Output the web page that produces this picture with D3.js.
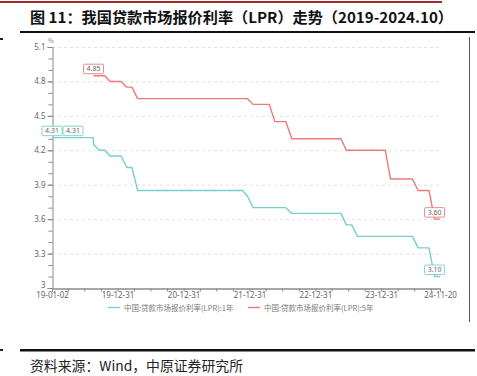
<!DOCTYPE html>
<html>
<head>
<meta charset="utf-8">
<script src="https://cdn.jsdelivr.net/npm/d3@7"></script>
<style>
  html, body { margin: 0; padding: 0; background: #fff; }
  svg { display: block; }
</style>
</head>
<body>
<div id="chart"></div>
<script>
// ---- data ----
var titleText = '图 11：我国贷款市场报价利率（LPR）走势（2019-2024.10）';
var sourceText = '资料来源：Wind，中原证券研究所';
var seriesNames = ['中国:贷款市场报价利率(LPR):1年', '中国:贷款市场报价利率(LPR):5年'];

// old 1Y LPR (before the Aug 2019 reform)
var oldDates = ['2019-01-02', '2019-08-19'];
var oldValues1y = [4.31, 4.31];

// monthly quotes from 2019-08 to 2024-11
var months = [
  '2019-08-20', '2019-09-20', '2019-10-21', '2019-11-20', '2019-12-20',
  '2020-01-20', '2020-02-20', '2020-03-20', '2020-04-20', '2020-05-20', '2020-06-22',
  '2020-07-20', '2020-08-20', '2020-09-21', '2020-10-20', '2020-11-20', '2020-12-21',
  '2021-01-20', '2021-02-20', '2021-03-22', '2021-04-20', '2021-05-20', '2021-06-21',
  '2021-07-20', '2021-08-20', '2021-09-22', '2021-10-20', '2021-11-22', '2021-12-20',
  '2022-01-20', '2022-02-21', '2022-03-21', '2022-04-20', '2022-05-20', '2022-06-20',
  '2022-07-20', '2022-08-22', '2022-09-20', '2022-10-20', '2022-11-21', '2022-12-20',
  '2023-01-20', '2023-02-20', '2023-03-20', '2023-04-20', '2023-05-22', '2023-06-20',
  '2023-07-20', '2023-08-21', '2023-09-20', '2023-10-20', '2023-11-20', '2023-12-20',
  '2024-01-22', '2024-02-20', '2024-03-20', '2024-04-22', '2024-05-20', '2024-06-20',
  '2024-07-22', '2024-08-20', '2024-09-20', '2024-10-21', '2024-11-20'
];
var lpr1y = [
  4.25, 4.20, 4.20, 4.15, 4.15,
  4.15, 4.05, 4.05, 3.85, 3.85, 3.85, 3.85, 3.85, 3.85, 3.85, 3.85, 3.85,
  3.85, 3.85, 3.85, 3.85, 3.85, 3.85, 3.85, 3.85, 3.85, 3.85, 3.85, 3.80,
  3.70, 3.70, 3.70, 3.70, 3.70, 3.70, 3.70, 3.65, 3.65, 3.65, 3.65, 3.65,
  3.65, 3.65, 3.65, 3.65, 3.65, 3.55, 3.55, 3.45, 3.45, 3.45, 3.45, 3.45,
  3.45, 3.45, 3.45, 3.45, 3.45, 3.45, 3.35, 3.35, 3.35, 3.10, 3.10
];
var lpr5y = [
  4.85, 4.85, 4.85, 4.80, 4.80,
  4.80, 4.75, 4.75, 4.65, 4.65, 4.65, 4.65, 4.65, 4.65, 4.65, 4.65, 4.65,
  4.65, 4.65, 4.65, 4.65, 4.65, 4.65, 4.65, 4.65, 4.65, 4.65, 4.65, 4.65,
  4.60, 4.60, 4.60, 4.60, 4.45, 4.45, 4.45, 4.30, 4.30, 4.30, 4.30, 4.30,
  4.30, 4.30, 4.30, 4.30, 4.30, 4.20, 4.20, 4.20, 4.20, 4.20, 4.20, 4.20,
  4.20, 3.95, 3.95, 3.95, 3.95, 3.95, 3.85, 3.85, 3.85, 3.60, 3.60
];

// value boxes: series index, date, value, shift (in box widths)
var labelSeries = [1, 0, 0, 1, 0];
var labelDates = ['2019-08-20', '2019-01-02', '2019-01-02', '2024-10-21', '2024-10-21'];
var labelValues = [4.85, 4.31, 4.31, 3.60, 3.10];
var labelShift = [0, 0, 1.05, 0, 0];

var yTicks = [3, 3.3, 3.6, 3.9, 4.2, 4.5, 4.8, 5.1];
var xTickDates = ['2019-01-02', '2019-12-31', '2020-12-31', '2021-12-31', '2022-12-31', '2023-12-31', '2024-11-20'];

// ---- drawing ----
var W = 477, H = 376;
var colors = ['#79cfca', '#ec7a7a'];
var parse = d3.timeParse('%Y-%m-%d');
var fmt = d3.timeFormat('%y-%m-%d');

var svg = d3.select('#chart').append('svg')
  .attr('width', W).attr('height', H)
  .style('font-family', '"Noto Sans CJK SC", "Noto Sans", sans-serif');

// page decoration
svg.append('rect').attr('x', 0).attr('y', 1).attr('width', 442).attr('height', 2).attr('fill', '#a32a2a');
svg.append('text').text(titleText)
  .attr('x', 30).attr('y', 23)
  .attr('textLength', 423).attr('lengthAdjust', 'spacingAndGlyphs')
  .style('font-size', '15px').style('font-weight', 'bold').attr('fill', '#111');
svg.append('rect').attr('x', 20).attr('y', 31).attr('width', 455).attr('height', 2).attr('fill', '#111');
svg.append('rect').attr('x', 0).attr('y', 38).attr('width', 3).attr('height', 2).attr('fill', '#222');
svg.append('line').attr('x1', 469.5).attr('x2', 469.5).attr('y1', 37).attr('y2', 322)
  .attr('stroke', '#555').attr('stroke-width', 1);
svg.append('rect').attr('x', 20).attr('y', 349).attr('width', 455).attr('height', 2.5).attr('fill', '#111');
svg.append('rect').attr('x', 0).attr('y', 349).attr('width', 3).attr('height', 2).attr('fill', '#222');
svg.append('text').text(sourceText)
  .attr('x', 30).attr('y', 371)
  .attr('textLength', 213).attr('lengthAdjust', 'spacingAndGlyphs')
  .style('font-size', '13.5px').attr('fill', '#222');

// scales
var x0 = parse('2019-01-02'), x1 = parse('2024-11-20');
var x = d3.scaleTime().domain([x0, x1]).range([52, 440]);
var y = d3.scaleLinear().domain([3, 5.1]).range([288, 47]);

var axisColor = '#8a8a8a', textColor = '#666';

// grid
svg.append('g').selectAll('line').data(yTicks.slice(1)).join('line')
  .attr('x1', x.range()[0]).attr('x2', x.range()[1])
  .attr('y1', d => y(d) + 0.5).attr('y2', d => y(d) + 0.5)
  .attr('stroke', '#d9d9d9').attr('stroke-width', 0.8).attr('stroke-dasharray', '3,3');

// y axis
var minorY = d3.range(30, 52).map(d => d / 10);
var gy = svg.append('g').attr('transform', 'translate(52.5,0)');
gy.call(d3.axisLeft(y).tickValues(minorY).tickSize(4).tickFormat(''));
gy.call(g => g.select('.domain').remove());
gy.append('g').call(d3.axisLeft(y).tickValues(yTicks).tickSize(5).tickPadding(2)
  .tickFormat(d => String(d)));
gy.selectAll('line, path').attr('stroke', axisColor);
gy.selectAll('text').style('font-size', '8px').attr('fill', textColor)
  .style('font-family', '"Noto Sans", sans-serif');
// lift the bottom "3" a little so it clears the first date
gy.selectAll('.tick text').filter(d => d === 3).attr('dy', '-0.1em');
svg.append('text').text('%').attr('x', 51).attr('y', 43)
  .attr('text-anchor', 'middle').style('font-size', '6.5px').attr('fill', '#888');

// x axis
var minorX = [];
d3.range(2019, 2025).forEach(function (yr) {
  ['03-31', '06-30', '09-30'].forEach(function (md) { minorX.push(parse(yr + '-' + md)); });
});
minorX = minorX.filter(d => d < x1);
var gx = svg.append('g').attr('transform', 'translate(0,288.5)');
gx.call(d3.axisBottom(x).tickValues(minorX).tickSize(3).tickFormat(''));
gx.append('g').call(d3.axisBottom(x).tickValues(xTickDates.map(parse)).tickSize(3).tickPadding(1)
  .tickFormat(fmt));
gx.selectAll('line, path').attr('stroke', axisColor);
gx.selectAll('text').style('font-size', '8px').attr('fill', textColor)
  .style('font-family', '"Noto Sans", sans-serif');

// lines
var allDates = oldDates.concat(months).map(parse);
var series = [
  allDates.map((d, i) => ({ date: d, value: oldValues1y.concat(lpr1y)[i] })),
  months.map(parse).map((d, i) => ({ date: d, value: lpr5y[i] }))
];
var line = d3.line().x(d => x(d.date)).y(d => y(d.value));
series.forEach(function (s, i) {
  svg.append('path').datum(s).attr('d', line)
    .attr('fill', 'none').attr('stroke', colors[i]).attr('stroke-width', 1.4)
    .attr('stroke-linejoin', 'round');
});

// value boxes
var bw = 20, bh = 9.5;
labelValues.forEach(function (v, i) {
  var cx = x(parse(labelDates[i])) + labelShift[i] * bw;
  var by = y(v) - 2 - bh;
  var g = svg.append('g');
  g.append('rect').attr('x', cx - bw / 2).attr('y', by).attr('width', bw).attr('height', bh)
    .attr('rx', 1).attr('fill', '#fff').attr('stroke', colors[labelSeries[i]]).attr('stroke-width', 0.9);
  g.append('text').text(v.toFixed(2)).attr('x', cx).attr('y', by + bh / 2 + 2.4)
    .attr('text-anchor', 'middle').style('font-size', '7px').attr('fill', '#666')
    .style('font-family', '"Noto Sans", sans-serif');
});

// legend
var legendX = [108, 248];
seriesNames.forEach(function (n, i) {
  svg.append('line').attr('x1', legendX[i]).attr('x2', legendX[i] + 12)
    .attr('y1', 307.5).attr('y2', 307.5).attr('stroke', colors[i]).attr('stroke-width', 1.4);
  svg.append('text').text(n).attr('x', legendX[i] + 16).attr('y', 310.5)
    .style('font-size', '7.5px').attr('fill', '#7a7a7a');
});
</script>
</body>
</html>
